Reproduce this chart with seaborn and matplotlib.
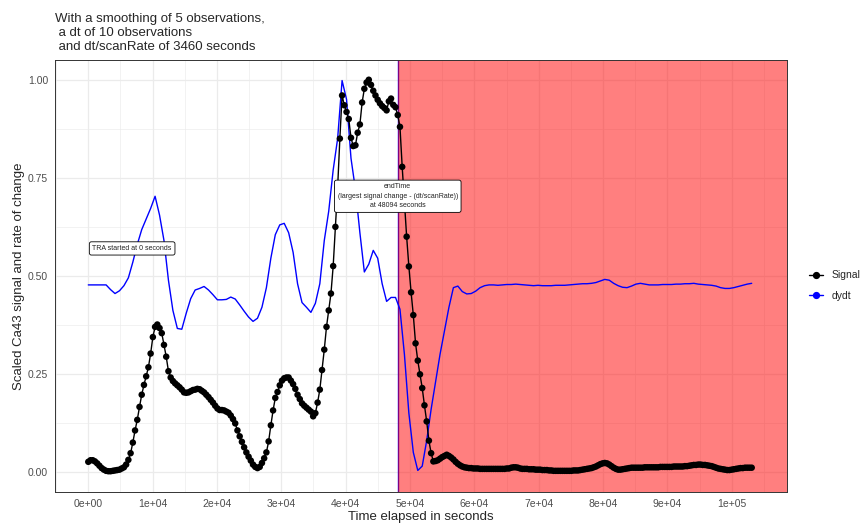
import numpy as np
import pandas as pd
import matplotlib
matplotlib.use("Agg")
import matplotlib.pyplot as plt
import seaborn as sns
from matplotlib.lines import Line2D
from matplotlib.ticker import MultipleLocator

# --- dane ---
title = ("With a smoothing of 5 observations,\n"
         " a dt of 10 observations\n"
         " and dt/scanRate of 3460 seconds")
scan_seconds = 346          # jeden skan (dt/scanRate / 10)
end_time = 48094
start_label = "TRA started at 0 seconds"
end_label = ("endTime\n(largest signal change - (dt/scanRate))\n"
             "at 48094 seconds")

signal = [
    0.026, 0.030, 0.030, 0.027, 0.022, 0.016, 0.010, 0.006, 0.003, 0.002,
    0.002, 0.003, 0.004, 0.005, 0.006, 0.009, 0.012, 0.019, 0.031, 0.048,
    0.075, 0.106, 0.133, 0.166, 0.197, 0.222, 0.244, 0.267, 0.302, 0.344,
    0.370, 0.376, 0.367, 0.354, 0.324, 0.294, 0.257, 0.241, 0.232, 0.226,
    0.221, 0.216, 0.210, 0.203, 0.202, 0.203, 0.206, 0.209, 0.210, 0.212,
    0.211, 0.207, 0.203, 0.197, 0.191, 0.184, 0.177, 0.169, 0.162, 0.158,
    0.158, 0.157, 0.154, 0.151, 0.144, 0.135, 0.124, 0.106, 0.091, 0.077,
    0.063, 0.050, 0.039, 0.029, 0.019, 0.013, 0.010, 0.013, 0.023, 0.035,
    0.050, 0.078, 0.119, 0.157, 0.189, 0.204, 0.221, 0.233, 0.239, 0.241,
    0.241, 0.233, 0.224, 0.212, 0.197, 0.186, 0.175, 0.169, 0.164, 0.159,
    0.154, 0.142, 0.150, 0.177, 0.210, 0.260, 0.312, 0.370, 0.412, 0.455,
    0.525, 0.625, 0.725, 0.850, 0.960, 0.935, 0.918, 0.900, 0.852, 0.831,
    0.833, 0.865, 0.886, 0.942, 0.977, 0.993, 1.000, 0.987, 0.972, 0.960,
    0.949, 0.940, 0.933, 0.928, 0.922, 0.945, 0.952, 0.936, 0.930, 0.910,
    0.880, 0.778, 0.690, 0.600, 0.524, 0.458, 0.400, 0.328, 0.284, 0.249,
    0.214, 0.170, 0.129, 0.080, 0.048, 0.027, 0.028, 0.030, 0.034, 0.038,
    0.041, 0.044, 0.041, 0.037, 0.032, 0.026, 0.021, 0.017, 0.014, 0.012,
    0.011, 0.010, 0.010, 0.009, 0.009, 0.009, 0.008, 0.008, 0.008, 0.008,
    0.008, 0.008, 0.008, 0.008, 0.008, 0.008, 0.008, 0.008, 0.009, 0.009,
    0.011, 0.012, 0.012, 0.011, 0.009, 0.008, 0.008, 0.008, 0.007, 0.007,
    0.007, 0.006, 0.006, 0.006, 0.005, 0.005, 0.005, 0.004, 0.004, 0.003,
    0.003, 0.003, 0.003, 0.003, 0.003, 0.003, 0.003, 0.003, 0.004, 0.004,
    0.004, 0.005, 0.006, 0.007, 0.008, 0.009, 0.010, 0.012, 0.014, 0.017,
    0.020, 0.022, 0.023, 0.022, 0.019, 0.015, 0.011, 0.008, 0.006, 0.006,
    0.007, 0.008, 0.009, 0.010, 0.011, 0.011, 0.011, 0.011, 0.011, 0.011,
    0.012, 0.012, 0.012, 0.012, 0.012, 0.012, 0.012, 0.013, 0.013, 0.013,
    0.013, 0.013, 0.013, 0.014, 0.014, 0.014, 0.014, 0.014, 0.015, 0.015,
    0.016, 0.017, 0.018, 0.018, 0.019, 0.019, 0.018, 0.018, 0.017, 0.016,
    0.015, 0.013, 0.011, 0.009, 0.008, 0.007, 0.006, 0.005, 0.005, 0.006,
    0.007, 0.008, 0.009, 0.010, 0.010, 0.011, 0.011, 0.011, 0.011,
]

# dydt odczytane co drugi skan
dydt = [
    0.477, 0.477, 0.477, 0.477, 0.477, 0.465, 0.455, 0.462, 0.475, 0.495,
    0.535, 0.580, 0.618, 0.645, 0.672, 0.703, 0.655, 0.590, 0.489, 0.412,
    0.366, 0.364, 0.405, 0.442, 0.464, 0.468, 0.473, 0.464, 0.452, 0.439,
    0.439, 0.440, 0.446, 0.441, 0.426, 0.410, 0.395, 0.384, 0.392, 0.420,
    0.470, 0.545, 0.605, 0.630, 0.634, 0.610, 0.560, 0.480, 0.432, 0.420,
    0.407, 0.430, 0.480, 0.590, 0.665, 0.770, 0.850, 0.998, 0.950, 0.800,
    0.720, 0.610, 0.510, 0.530, 0.565, 0.545, 0.480, 0.435, 0.445, 0.445,
    0.415, 0.300, 0.150, 0.050, 0.004, 0.015, 0.080, 0.160, 0.230, 0.300,
    0.360, 0.420, 0.470, 0.474, 0.460, 0.454, 0.455, 0.461, 0.470, 0.475,
    0.477, 0.477, 0.476, 0.477, 0.478, 0.478, 0.479, 0.478, 0.477, 0.476,
    0.475, 0.476, 0.475, 0.475, 0.475, 0.476, 0.476, 0.476, 0.477, 0.478,
    0.479, 0.480, 0.480, 0.481, 0.483, 0.487, 0.491, 0.489, 0.481, 0.475,
    0.471, 0.470, 0.474, 0.479, 0.481, 0.479, 0.477, 0.477, 0.477, 0.478,
    0.478, 0.478, 0.479, 0.479, 0.480, 0.480, 0.481, 0.479, 0.478, 0.477,
    0.476, 0.474, 0.470, 0.468, 0.468, 0.470, 0.473, 0.476, 0.479, 0.481,
]

x_ticks = [0, 10000, 20000, 30000, 40000, 50000, 60000, 70000, 80000, 90000, 100000]
x_tick_labels = ["0e+00", "1e+04", "2e+04", "3e+04", "4e+04", "5e+04",
                 "6e+04", "7e+04", "8e+04", "9e+04", "1e+05"]
y_ticks = [0.0, 0.25, 0.5, 0.75, 1.0]
y_tick_labels = ["0.00", "0.25", "0.50", "0.75", "1.00"]

df_sig = pd.DataFrame({"time": np.arange(len(signal)) * scan_seconds, "value": signal})
df_dydt = pd.DataFrame({"time": np.arange(len(dydt)) * 2 * scan_seconds, "value": dydt})

# --- wykres ---
sns.set_theme(style="whitegrid")
plt.rcParams["font.family"] = ["Liberation Sans", "DejaVu Sans"]

fig, ax = plt.subplots(figsize=(8.67, 5.23), dpi=100)
fig.subplots_adjust(left=0.0634, right=0.9074, top=0.885, bottom=0.060)

x_lo, x_hi = -5180, 108550
ax.set_xlim(x_lo, x_hi)
ax.set_ylim(-0.05, 1.05)
ax.set_facecolor("white")
ax.set_axisbelow(True)

ax.xaxis.set_minor_locator(MultipleLocator(5000))
ax.yaxis.set_minor_locator(MultipleLocator(0.125))
ax.grid(which="major", color="#EBEBEB", lw=0.9)
ax.grid(which="minor", color="#EBEBEB", lw=0.45)

ax.axvline(end_time, color="blue", lw=1.0, zorder=0.9)
ax.axvspan(end_time, x_hi, color="red", alpha=0.5, lw=0, zorder=1)

sns.lineplot(data=df_dydt, x="time", y="value", color="blue", lw=1.0, ax=ax, zorder=3)
sns.lineplot(data=df_sig, x="time", y="value", color="black", lw=1.0, ax=ax, zorder=4)
sns.scatterplot(data=df_sig, x="time", y="value", color="black", s=22,
                edgecolor="none", ax=ax, zorder=5)

box = dict(boxstyle="round,pad=0.45,rounding_size=0.3", fc="white", ec="black", lw=0.6)
ax.annotate(start_label, xy=(0, 0.57), xytext=(3, 0), textcoords="offset points",
            ha="left", va="center", fontsize=5, color="#222222", bbox=box, zorder=6)
ax.text(end_time, 0.703, end_label, ha="center", va="center", fontsize=5,
        color="#222222", linespacing=1.5, bbox=box, zorder=6)

ax.set_xticks(x_ticks)
ax.set_xticklabels(x_tick_labels)
ax.set_yticks(y_ticks)
ax.set_yticklabels(y_tick_labels)
ax.tick_params(which="major", length=3, width=0.6, color="#333333",
               labelsize=7.5, labelcolor="#4D4D4D", pad=2)
ax.tick_params(which="minor", length=0)
for s in ax.spines.values():
    s.set_color("#333333")
    s.set_linewidth(0.7)

ax.set_xlabel("Time elapsed in seconds", fontsize=9.5, labelpad=2)
ax.set_ylabel("Scaled Ca43 signal and rate of change", fontsize=9.5, labelpad=2)

fig.text(0.0634, 0.975, title, ha="left", va="top", fontsize=9.5, linespacing=1.2)

handles = [
    Line2D([], [], color="black", marker="o", markersize=4.2, lw=1.0),
    Line2D([], [], color="blue", marker="o", markersize=4.2, lw=1.0),
]
fig.legend(handles, ["Signal", "dydt"], loc="center left",
           bbox_to_anchor=(0.922, 0.454), frameon=False, fontsize=7.5,
           handlelength=1.35, handletextpad=0.8, labelspacing=1.0)

fig.savefig("out.png", dpi=100)
